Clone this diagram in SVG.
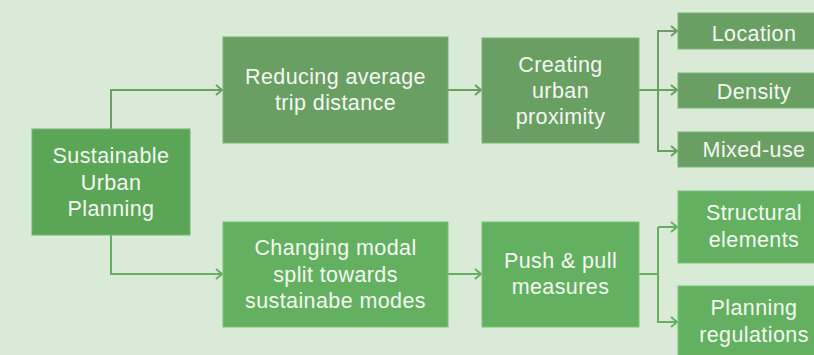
<svg xmlns="http://www.w3.org/2000/svg" width="814" height="355" viewBox="0 0 814 355">
<defs>
<style>
.bg{fill:#d9ead6}
.dark{fill:#699f63;stroke:#7fb17a;stroke-width:1}
.mid{fill:#5ba656;stroke:#74b670;stroke-width:1}
.light{fill:#63b160;stroke:#7cc078;stroke-width:1}
text{font-family:"Liberation Sans",Arial,sans-serif;font-size:21.5px;fill:#f4f8f2;text-anchor:middle;letter-spacing:0.4px}
.cd{fill:none;stroke:#699f63;stroke-width:2}
.cl{fill:none;stroke:#63b160;stroke-width:2}
</style>
<marker id="ad" viewBox="0 0 8 12" refX="7" refY="6" markerWidth="8" markerHeight="12" markerUnits="userSpaceOnUse" orient="auto">
<path d="M1,1 L7,6 L1,11" fill="none" stroke="#699f63" stroke-width="2"/>
</marker>
<marker id="al" viewBox="0 0 8 12" refX="7" refY="6" markerWidth="8" markerHeight="12" markerUnits="userSpaceOnUse" orient="auto">
<path d="M1,1 L7,6 L1,11" fill="none" stroke="#63b160" stroke-width="2"/>
</marker>
</defs>
<rect class="bg" x="0" y="0" width="814" height="355"/>
<g id="connectors">
<path class="cd" d="M111,129 V90 H222" marker-end="url(#ad)"/>
<path class="cd" d="M448,90 H481" marker-end="url(#ad)"/>
<path class="cd" d="M639,90 H677" marker-end="url(#ad)"/>
<path class="cd" d="M677,31 H658 V151 H677" marker-end="url(#ad)"/>
<path class="cd" d="M658,31 H677" marker-end="url(#ad)"/>
<path class="cl" d="M111,235 V274 H222" marker-end="url(#al)"/>
<path class="cl" d="M448,274 H481" marker-end="url(#al)"/>
<path class="cl" d="M639,274 H658"/>
<path class="cl" d="M658,227 H677" marker-end="url(#al)"/>
<path class="cl" d="M677,322 H658 V227" />
<path class="cl" d="M658,322 H677" marker-end="url(#al)"/>
</g>
<g id="n-sustainable">
<rect class="mid" x="32" y="129" width="158" height="106"/>
<text x="111" y="163">Sustainable</text>
<text x="111" y="189.5">Urban</text>
<text x="111" y="216">Planning</text>
</g>
<g id="n-reducing">
<rect class="dark" x="223" y="37" width="225" height="106"/>
<text x="335.5" y="84">Reducing average</text>
<text x="335.5" y="110">trip distance</text>
</g>
<g id="n-changing">
<rect class="light" x="223" y="222" width="225" height="105"/>
<text x="335.5" y="255">Changing modal</text>
<text x="335.5" y="281.5">split towards</text>
<text x="335.5" y="308">sustainabe modes</text>
</g>
<g id="n-creating">
<rect class="dark" x="482" y="38" width="157" height="105"/>
<text x="560.5" y="72">Creating</text>
<text x="560.5" y="98">urban</text>
<text x="560.5" y="124">proximity</text>
</g>
<g id="n-push">
<rect class="light" x="482" y="222" width="157" height="105"/>
<text x="560.5" y="268">Push &amp; pull</text>
<text x="560.5" y="294">measures</text>
</g>
<g id="n-location">
<rect class="dark" x="678" y="13" width="150" height="36"/>
<text x="754" y="41">Location</text>
</g>
<g id="n-density">
<rect class="dark" x="678" y="73" width="150" height="35"/>
<text x="754" y="99">Density</text>
</g>
<g id="n-mixed">
<rect class="dark" x="678" y="132" width="150" height="35"/>
<text x="754" y="157">Mixed-use</text>
</g>
<g id="n-structural">
<rect class="light" x="678" y="191" width="150" height="72"/>
<text x="754" y="220">Structural</text>
<text x="754" y="246.5">elements</text>
</g>
<g id="n-planning">
<rect class="light" x="678" y="286" width="150" height="80"/>
<text x="754" y="315">Planning</text>
<text x="754" y="341.5">regulations</text>
</g>
</svg>
